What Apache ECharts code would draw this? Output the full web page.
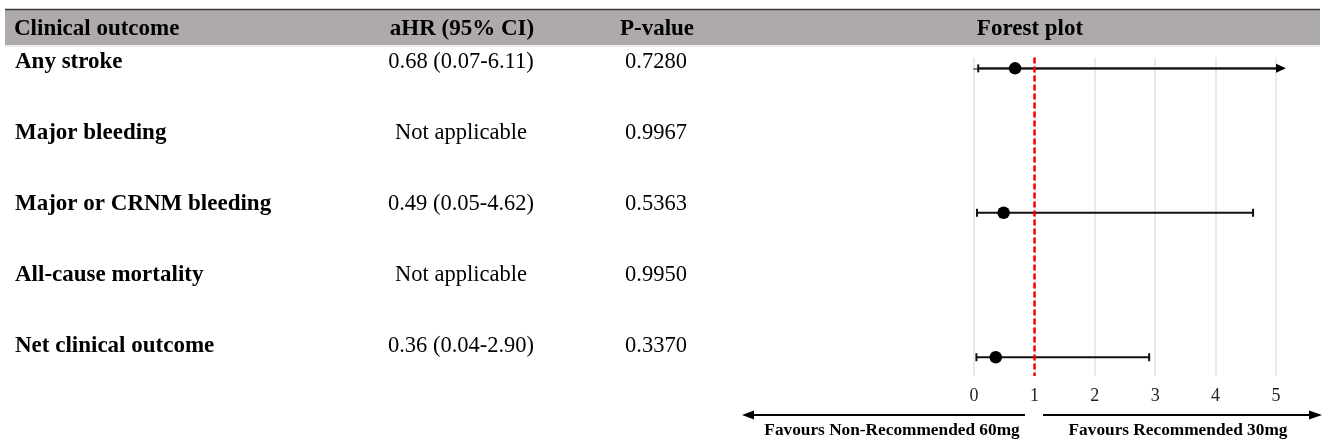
<!DOCTYPE html>
<html>
<head>
<meta charset="utf-8">
<script src="https://cdn.jsdelivr.net/npm/echarts@6/dist/echarts.min.js"></script>
<style>
html,body{margin:0;padding:0;background:#fff;}
#chart{width:1323px;height:447px;}
</style>
</head>
<body>
<div id="chart"></div>
<script>
// ---- Data ----
const headers = ['Clinical outcome', 'aHR (95% CI)', 'P-value', 'Forest plot'];
const outcomes = ['Any stroke', 'Major bleeding', 'Major or CRNM bleeding', 'All-cause mortality', 'Net clinical outcome'];
const ahrLabels = ['0.68 (0.07-6.11)', 'Not applicable', '0.49 (0.05-4.62)', 'Not applicable', '0.36 (0.04-2.90)'];
const pValues = ['0.7280', '0.9967', '0.5363', '0.9950', '0.3370'];
const hr = [0.68, null, 0.49, null, 0.36];
const ciLow = [0.07, null, 0.05, null, 0.04];
const ciHigh = [6.11, null, 4.62, null, 2.90];
const xTicks = [0, 1, 2, 3, 4, 5];
const refValue = 1;
const leftNote = 'Favours Non-Recommended 60mg';
const rightNote = 'Favours Recommended 30mg';

// ---- Chart ----
const chart = echarts.init(document.getElementById('chart'), null, {renderer: 'canvas'});
const SERIF = '"Liberation Serif", "Times New Roman", serif';
const xMin = xTicks[0], xMax = xTicks[xTicks.length - 1];

const pointData = [];
const ciData = [];
outcomes.forEach((o, i) => {
  if (hr[i] != null) {
    pointData.push([hr[i], i]);
    ciData.push([ciLow[i], ciHigh[i], i]);
  }
});

const graphics = [];
// header bar
graphics.push({type: 'rect', shape: {x: 5, y: 10, width: 1315, height: 35}, style: {fill: '#AEAAA9'}, silent: true, z: 0});
graphics.push({type: 'line', shape: {x1: 5, y1: 9.5, x2: 1320, y2: 9.5}, style: {stroke: '#3a3a3a', lineWidth: 1.5}, z: 1});
graphics.push({type: 'line', shape: {x1: 5, y1: 46, x2: 1320, y2: 46}, style: {stroke: '#d8d8d8', lineWidth: 1}, z: 1});
const headerX = [14, 462, 657, 1030];
const headerAlign = ['left', 'center', 'center', 'center'];
headers.forEach((h, i) => {
  graphics.push({type: 'text', x: headerX[i], y: 29, z: 2,
    style: {text: h, font: 'bold 23px ' + SERIF, fill: '#000', textAlign: headerAlign[i], textVerticalAlign: 'middle'}});
});
// table rows
outcomes.forEach((o, i) => {
  const y = 62 + i * 71;
  graphics.push({type: 'text', x: 15, y: y, z: 2,
    style: {text: o, font: 'bold 23px ' + SERIF, fill: '#000', textAlign: 'left', textVerticalAlign: 'middle'}});
  graphics.push({type: 'text', x: 461, y: y, z: 2,
    style: {text: ahrLabels[i], font: '22.5px ' + SERIF, fill: '#000', textAlign: 'center', textVerticalAlign: 'middle'}});
  graphics.push({type: 'text', x: 656, y: y, z: 2,
    style: {text: pValues[i], font: '22.5px ' + SERIF, fill: '#000', textAlign: 'center', textVerticalAlign: 'middle'}});
});
// bottom direction arrows
graphics.push({type: 'line', shape: {x1: 752, y1: 415, x2: 1025, y2: 415}, style: {stroke: '#000', lineWidth: 1.8}});
graphics.push({type: 'polygon', shape: {points: [[742, 415], [754, 410.5], [754, 419.5]]}, style: {fill: '#000'}});
graphics.push({type: 'line', shape: {x1: 1043, y1: 415, x2: 1310, y2: 415}, style: {stroke: '#000', lineWidth: 1.8}});
graphics.push({type: 'polygon', shape: {points: [[1322, 415], [1309, 410.5], [1309, 419.5]]}, style: {fill: '#000'}});
graphics.push({type: 'text', x: 892, y: 431,
  style: {text: leftNote, font: 'bold 17.3px ' + SERIF, fill: '#000', textAlign: 'center', textVerticalAlign: 'middle'}});
graphics.push({type: 'text', x: 1178, y: 431,
  style: {text: rightNote, font: 'bold 17.3px ' + SERIF, fill: '#000', textAlign: 'center', textVerticalAlign: 'middle'}});

const option = {
  animation: false,
  backgroundColor: '#fff',
  grid: {left: 974, right: 47, top: 57.5, bottom: 71, containLabel: false},
  xAxis: {
    type: 'value', min: xMin, max: xMax, interval: 1,
    axisLine: {show: true, lineStyle: {color: '#7f7f7f', width: 2}},
    axisTick: {show: false},
    splitLine: {show: true, lineStyle: {color: '#e3e3e3', width: 1.5}},
    axisLabel: {fontFamily: SERIF, fontSize: 18, color: '#222', margin: 11}
  },
  yAxis: {
    type: 'value', min: -0.15, max: 4.26, inverse: true,
    show: false, splitLine: {show: false}
  },
  series: [
    {
      type: 'custom',
      clip: false,
      z: 3,
      data: ciData,
      renderItem: function (params, api) {
        const lo = api.value(0), hi = api.value(1), row = api.value(2);
        const p0 = api.coord([lo, row]);
        const truncated = hi > xMax;
        const p1 = api.coord([Math.min(hi, xMax), row]);
        const st = {stroke: '#111', lineWidth: 2};
        const children = [
          {type: 'line', shape: {x1: p0[0], y1: p0[1], x2: p1[0], y2: p1[1]}, style: st},
          {type: 'line', shape: {x1: p0[0], y1: p0[1] - 4, x2: p0[0], y2: p0[1] + 4}, style: st}
        ];
        if (truncated) {
          children.push({type: 'polygon', shape: {points: [[p1[0] + 10, p1[1]], [p1[0], p1[1] - 4.5], [p1[0], p1[1] + 4.5]]}, style: {fill: '#000'}});
        } else {
          children.push({type: 'line', shape: {x1: p1[0], y1: p1[1] - 4, x2: p1[0], y2: p1[1] + 4}, style: st});
        }
        return {type: 'group', children: children};
      }
    },
    {
      type: 'scatter',
      z: 4,
      data: pointData,
      symbol: 'circle',
      symbolSize: 12.5,
      itemStyle: {color: '#000', opacity: 1},
      markLine: {
        silent: true,
        symbol: 'none',
        label: {show: false},
        lineStyle: {color: '#ff0000', type: [6, 3], width: 2.5},
        data: [{xAxis: refValue}]
      }
    }
  ],
  graphic: graphics
};
chart.setOption(option);
</script>
</body>
</html>
